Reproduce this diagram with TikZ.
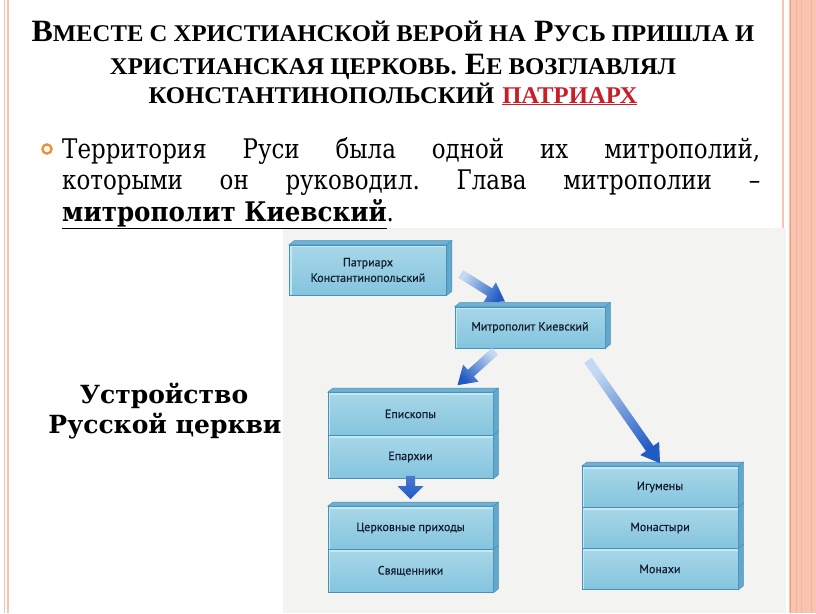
\documentclass[tikz,border=0pt]{standalone}
\usepackage{fontspec}
\usetikzlibrary{calc}
\setmainfont{DejaVu Serif}
\newfontfamily\titlefont{Liberation Serif}[FakeStretch=1.03]
\newfontfamily\bodyfont{DejaVu Serif}[FakeStretch=0.85]
\newfontfamily\bodybold{DejaVu Serif}[FakeStretch=0.91]
\newfontfamily\capfont{DejaVu Serif}
\newfontfamily\boxfont{PT Sans}[FakeBold=0.5]
\definecolor{salmon}{RGB}{248,196,176}
\definecolor{salmondk}{RGB}{236,160,135}
\definecolor{salmonmd}{RGB}{242,180,158}
\definecolor{titlered}{RGB}{200,30,40}
\definecolor{bulletc}{RGB}{240,140,50}
\definecolor{facetop}{RGB}{168,215,232}
\definecolor{facebot}{RGB}{132,196,222}
\definecolor{slabedge}{RGB}{70,145,185}
\definecolor{slabsidec}{RGB}{98,168,204}
\definecolor{slabtopc}{RGB}{112,176,210}
\definecolor{slabhi}{RGB}{196,232,243}
\definecolor{arrdark}{RGB}{32,90,195}
\definecolor{arrpale}{RGB}{195,218,242}
\definecolor{photo}{RGB}{243,243,242}
\definecolor{boxtext}{RGB}{20,28,48}
\newcommand\sm[1]{{\fontsize{24}{24}\selectfont #1}}
\newcommand\slabtopface[1]{\filldraw[fill=slabtopc, draw=slabedge, line width=0.5pt] (#1.north west) -- ++(5,-4) -- ([shift={(5,-4)}]#1.north east) -- (#1.north east) -- cycle;}
\newcommand\slabsideface[1]{\filldraw[fill=slabsidec, draw=slabedge, line width=0.5pt] (#1.north east) -- ++(5,-4) -- ([shift={(5,-4)}]#1.south east) -- (#1.south east) -- cycle;}
% #1 shading options, #2 tail, #3 tip, #4 head length, #5 shaft half width, #6 head half width
\newcommand\fatarrow[6]{%
  \coordinate (fah) at ($(#3)!#4!(#2)$);
  \shade[#1] ($(#2)!#5!90:(#3)$) -- ($(fah)!#5!90:(#3)$) -- ($(fah)!#6!90:(#3)$) -- (#3)
     -- ($(fah)!#6!-90:(#3)$) -- ($(fah)!#5!-90:(#3)$) -- ($(#2)!#5!-90:(#3)$) -- cycle;}
\tikzset{
  slab/.style={rectangle, inner sep=0pt, top color=facetop, bottom color=facebot,
    draw=slabedge, line width=0.6pt, text=boxtext, align=center,
    font=\boxfont\fontsize{12}{15.5}\selectfont,
    path picture={\draw[slabhi, line width=1.4pt]
      ([yshift=-1.3pt]path picture bounding box.north west) --
      ([yshift=-1.3pt]path picture bounding box.north east);
      \draw[slabhi, line width=1.4pt]
      ([xshift=1.3pt]path picture bounding box.north west) --
      ([xshift=1.3pt]path picture bounding box.south west);}},
  titletext/.style={anchor=base, inner sep=0pt, font=\titlefont\bfseries\fontsize{31}{31}\selectfont},
  sidetext/.style={anchor=base, inner sep=0pt, font=\capfont\bfseries\fontsize{25}{30}\selectfont},
}
\begin{document}
\begin{tikzpicture}[x=1pt,y=-1pt]
\useasboundingbox (0,0) rectangle (816,613);
\fill[white] (0,0) rectangle (816,613);
% frame decoration
\draw[salmon, line width=1.3pt] (4.5,0) -- (4.5,613);
\draw[salmon, line width=1.3pt] (8,0) -- (8,613);
\draw[salmon, line width=1.5pt] (783,0) -- (783,613);
\fill[salmon] (789,0) rectangle (816,613);
\foreach \x/\c in {790/salmondk, 796/salmonmd, 801/salmonmd, 811/salmonmd}
  \draw[\c, line width=0.8pt] (\x,0) -- (\x,613);
% photo area
\fill[photo] (283,228) rectangle (786,613);
% title
\node[titletext] (t1) at (393,41) {В\sm{МЕСТЕ С ХРИСТИАНСКОЙ ВЕРОЙ НА} Р\sm{УСЬ ПРИШЛА И}};
\node[titletext] (t2) at (393,74) {\sm{ХРИСТИАНСКАЯ ЦЕРКОВЬ.} Е\sm{Е ВОЗГЛАВЛЯЛ}};
\node[titletext] (t3) at (393,103) {\sm{КОНСТАНТИНОПОЛЬСКИЙ} {\color{titlered}\sm{\underline{ПАТРИАРХ}}}};
% bullet and body
\draw[bulletc, line width=2.3pt] (47,149) circle (4.6);
\node[anchor=base west, inner sep=0pt, font=\bodyfont\fontsize{27}{31.5}\selectfont] (body) at (62,158)
  {\parbox[t]{698pt}{\frenchspacing\hyphenpenalty=10000 \exhyphenpenalty=10000 \emergencystretch=20pt
  Территория Руси была одной их митрополий, \linebreak
  которыми он руководил. Глава митрополии – \linebreak
  {\bodybold\bfseries\underline{митрополит Киевский}}.}};
% side caption
\node[sidetext] (cap1) at (164,403) {Устройство};
\node[sidetext] (cap2) at (165,433) {Русской церкви};
% boxes
\node[slab, minimum width=157pt, minimum height=50pt] (pat) at (368,270) {Патриарх\\Константинопольский};
\node[slab, minimum width=150pt, minimum height=41pt] (mit) at (530,327.5) {Митрополит Киевский};
\node[slab, minimum width=165pt, minimum height=43pt] (epi) at (410.5,414) {Епископы};
\node[slab, minimum width=165pt, minimum height=43pt] (epar) at (410.5,457) {Епархии};
\node[slab, minimum width=165pt, minimum height=43pt] (ch1) at (410.5,528) {Церковные приходы};
\node[slab, minimum width=165pt, minimum height=43pt] (ch2) at (410.5,571) {Священники};
\node[slab, minimum width=156pt, minimum height=41pt] (igu) at (660,487) {Игумены};
\node[slab, minimum width=156pt, minimum height=41pt] (mon) at (660,528) {Монастыри};
\node[slab, minimum width=156pt, minimum height=41pt] (mnh) at (660,569) {Монахи};
\foreach \n in {pat,mit,epi,ch1,igu} {\slabtopface{\n}}
\foreach \n in {pat,mit,epi,epar,ch1,ch2,igu,mon,mnh} {\slabsideface{\n}}
% arrows
\coordinate (a1s) at ([xshift=14pt,yshift=-4pt]pat.east);
\coordinate (a1e) at ([xshift=-25pt,yshift=5pt]mit.north);
\coordinate (a2s) at ([xshift=-35pt,yshift=-3pt]mit.south);
\coordinate (a2e) at ([xshift=47pt,yshift=7pt]epi.north);
\coordinate (a3s) at ([xshift=58pt,yshift=-12pt]mit.south);
\coordinate (a3e) at ([yshift=3pt]igu.north);
\coordinate (a4s) at ([yshift=3pt]epar.south);
\coordinate (a4e) at ([yshift=7pt]ch1.north);
\fatarrow{top color=arrdark, bottom color=arrpale, shading angle=-121}{a1s}{a1e}{18pt}{4.5pt}{11.5pt}
\fatarrow{top color=arrdark, bottom color=arrpale, shading angle=133}{a2s}{a2e}{18pt}{4.5pt}{11.5pt}
\fatarrow{top color=arrdark, bottom color=arrpale, shading angle=-145}{a3s}{a3e}{18pt}{4.5pt}{11.5pt}
\fatarrow{top color=arrdark!75!arrpale, bottom color=arrdark, shading angle=0}{a4s}{a4e}{13pt}{4.5pt}{13pt}
\end{tikzpicture}
\end{document}
